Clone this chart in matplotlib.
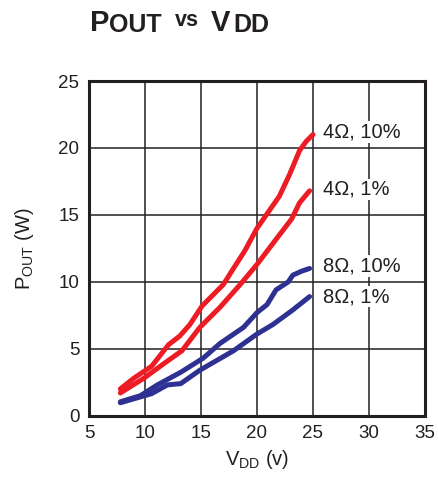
import matplotlib
matplotlib.use("Agg")
import matplotlib.pyplot as plt

plt.rcParams['font.family'] = ['Liberation Sans', 'DejaVu Sans']
plt.rcParams['mathtext.default'] = 'regular'

# curves (VDD in V, POUT in W)
vdd_4r_10 = [7.8, 9.0, 10.6, 12.1, 13.1, 14.0, 15.1, 17.0, 17.9, 18.9, 20.0, 22.0, 22.9, 23.8, 24.4, 25.0]
pout_4r_10 = [2.0, 2.8, 3.7, 5.3, 5.95, 6.8, 8.2, 9.8, 11.0, 12.3, 14.0, 16.4, 18.0, 19.8, 20.5, 21.0]

vdd_4r_1 = [7.8, 9.9, 11.7, 13.3, 14.9, 16.7, 18.5, 20.0, 22.0, 23.1, 23.8, 24.7]
pout_4r_1 = [1.7, 2.8, 3.9, 4.85, 6.6, 8.1, 9.8, 11.3, 13.5, 14.7, 15.9, 16.8]

vdd_8r_10 = [7.8, 9.6, 11.1, 13.2, 15.2, 16.7, 18.8, 20.0, 20.9, 21.7, 22.8, 23.2, 24.0, 24.7]
pout_8r_10 = [1.04, 1.5, 2.3, 3.25, 4.3, 5.4, 6.6, 7.7, 8.3, 9.4, 10.0, 10.5, 10.8, 11.0]

vdd_8r_1 = [7.8, 10.6, 12.0, 13.2, 14.9, 17.9, 20.0, 21.4, 23.2, 24.7]
pout_8r_1 = [0.97, 1.65, 2.3, 2.4, 3.4, 4.85, 6.1, 6.8, 7.9, 8.9]

labels = ["4Ω, 10%", "4Ω, 1%", "8Ω, 10%", "8Ω, 1%"]
label_y = [21.2, 16.9, 11.2, 8.9]

red = '#ED1C24'
blue = '#2E3192'
dark = '#231F20'

fig = plt.figure(figsize=(4.39, 4.78), dpi=100)
ax = fig.add_axes([0.2027, 0.1303, 0.7653, 0.7002])

ax.plot(vdd_4r_10, pout_4r_10, color=red, lw=3.6, solid_capstyle='round')
ax.plot(vdd_4r_1, pout_4r_1, color=red, lw=3.6, solid_capstyle='round')
ax.plot(vdd_8r_10, pout_8r_10, color=blue, lw=3.6, solid_capstyle='round')
ax.plot(vdd_8r_1, pout_8r_1, color=blue, lw=3.6, solid_capstyle='round')

for lab, yy in zip(labels, label_y):
    ax.text(25.9, yy, lab, fontsize=14.5, va='center', ha='left', color=dark,
            bbox=dict(facecolor='white', edgecolor='none', pad=1.0), zorder=5)

ax.set_xlim(5, 35)
ax.set_ylim(0, 25)
ax.set_xticks(range(5, 36, 5))
ax.set_yticks(range(0, 26, 5))
ax.grid(True, color=dark, lw=1.1)
ax.set_axisbelow(True)
ax.tick_params(length=0, labelsize=13.5, colors=dark, pad=7)
for s in ax.spines.values():
    s.set_linewidth(2.2)
    s.set_color(dark)

ax.set_xlabel(r"V$_{DD}$ (v)", fontsize=14.5, color=dark, labelpad=4)
ax.set_ylabel(r"P$_{OUT}$ (W)", fontsize=14.5, color=dark, labelpad=16)

# title pieces: big letters, large subscripts, small raised "vs" (x in px, size, baseline shift)
pieces = [("P", 90, 21, 0), ("OUT", 109, 18, -0.7), ("vs", 175, 15.5, 5.3),
          ("V", 211, 21, 0), ("DD", 233, 18, -0.7)]
base = 478 - 31
for txt, xpx, size, dy in pieces:
    fig.text(xpx / 439, (base + dy) / 478, txt, fontsize=size, fontweight='bold',
             color=dark, ha='left', va='baseline')

fig.savefig("out.png", dpi=100)
